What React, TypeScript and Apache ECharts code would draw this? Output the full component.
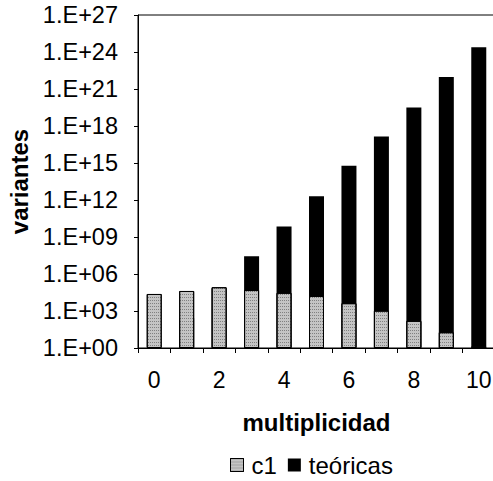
import React, { useEffect, useRef } from "react";
import * as echarts from "echarts";

const categories = ["0", "1", "2", "3", "4", "5", "6", "7", "8", "9", "10"];
const c1Values = [2.4e4, 4.2e4, 8.5e4, 5.0e4, 3.0e4, 1.66e4, 4.3e3, 1.07e3, 1.6e2, 1.9e1, 1.35];
const teoricasValues = [1, 2.6e2, 6.5e4, 2.7e7, 7.2e9, 2.0e12, 6.0e14, 1.4e17, 3.2e19, 9.5e21, 2.4e24];
const seriesNames = ["c1", "teóricas"];
const yTickExponents = [0, 3, 6, 9, 12, 15, 18, 21, 24, 27];

const FONT = "'Liberation Sans', Arial, sans-serif";

function fmtExp(v: number): string {
  const e = Math.round(Math.log10(v));
  return "1.E+" + (e < 10 ? "0" + e : String(e));
}

const c1Decal = {
  symbol: "rect",
  symbolSize: 1,
  dashArrayX: [1, 1],
  dashArrayY: [1, 2],
  color: "rgba(0,0,0,0.35)",
};

export default function App() {
  const ref = useRef<HTMLDivElement>(null);
  useEffect(() => {
    if (!ref.current) return;
    const chart = echarts.init(ref.current, null, { renderer: "svg" });
    chart.setOption({
      animation: false,
      backgroundColor: "#ffffff",
      textStyle: { fontFamily: FONT, color: "#000" },
      grid: {
        left: 138,
        top: 15,
        width: 357,
        height: 333,
        containLabel: false,
        outerBoundsMode: "none",
        show: true,
        borderColor: "#000",
        borderWidth: 1,
        backgroundColor: "transparent",
      },
      legend: {
        data: [
          { name: seriesNames[0], itemStyle: { color: "#c4c4c4", borderColor: "#000", borderWidth: 1, decal: c1Decal } },
          { name: seriesNames[1], itemStyle: { color: "#000" } },
        ],
        icon: "rect",
        left: 230,
        top: 453,
        padding: 0,
        itemWidth: 13,
        itemHeight: 13,
        itemGap: 11,
        textStyle: { fontFamily: FONT, fontSize: 24, color: "#000", padding: [0, 0, 0, 3] },
      },
      xAxis: {
        type: "category",
        data: categories,
        name: "multiplicidad",
        nameLocation: "middle",
        nameGap: 62,
        nameTextStyle: { fontFamily: FONT, fontSize: 24, fontWeight: "bold", color: "#000" },
        axisLine: { lineStyle: { color: "#000", width: 1 } },
        axisTick: { show: true, interval: 0, length: 5, lineStyle: { color: "#000" } },
        axisLabel: { interval: 1, margin: 20, fontFamily: FONT, fontSize: 23, color: "#000" },
        splitLine: { show: false },
      },
      yAxis: {
        type: "log",
        logBase: 1000,
        min: Math.pow(10, yTickExponents[0]),
        max: Math.pow(10, yTickExponents[yTickExponents.length - 1]),
        splitNumber: yTickExponents.length - 1,
        name: "variantes",
        nameLocation: "middle",
        nameGap: 106,
        nameTextStyle: { fontFamily: FONT, fontSize: 24, fontWeight: "bold", color: "#000" },
        axisLine: { show: true, lineStyle: { color: "#000", width: 1 } },
        axisTick: { show: true, length: 4, lineStyle: { color: "#000" } },
        axisLabel: { margin: 20, fontFamily: FONT, fontSize: 23.5, color: "#000", formatter: (v: number) => fmtExp(v) },
        splitLine: { show: false },
        minorTick: { show: false },
      },
      series: [
        {
          name: seriesNames[1],
          type: "bar",
          data: teoricasValues,
          barWidth: 15,
          barGap: "-100%",
          itemStyle: { color: "#000" },
        },
        {
          name: seriesNames[0],
          type: "bar",
          data: c1Values,
          barWidth: 15,
          barGap: "-100%",
          itemStyle: { color: "#c4c4c4", borderColor: "#000", borderWidth: 1, decal: c1Decal },
        },
      ],
    });
    return () => chart.dispose();
  }, []);
  return (
    <div
      ref={ref}
      style={{ position: "absolute", left: 0, top: 0, width: 493, height: 481 }}
    />
  );
}
